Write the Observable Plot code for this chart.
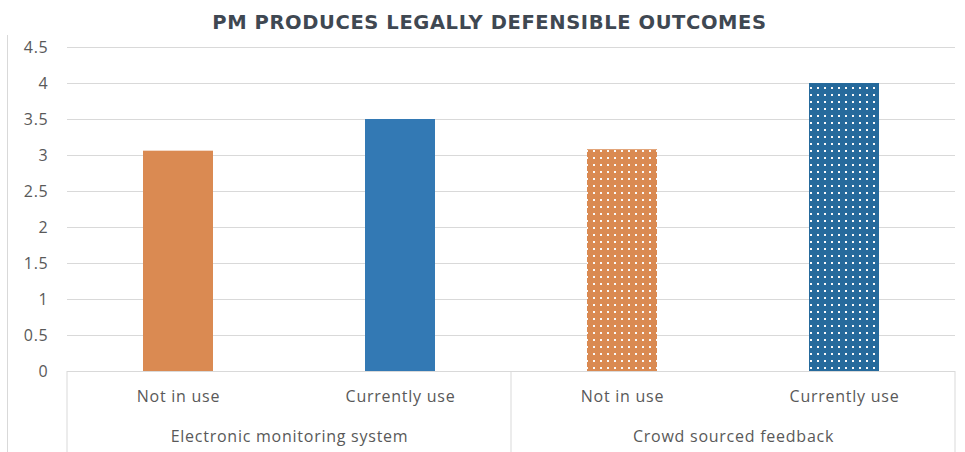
<!DOCTYPE html>
<html>
<head>
<meta charset="utf-8">
<script src="https://cdn.jsdelivr.net/npm/d3@7"></script>
<script src="https://cdn.jsdelivr.net/npm/@observablehq/plot@0.6"></script>
<style>
  html, body { margin: 0; padding: 0; background: #fff; }
  #wrap { position: relative; width: 965px; height: 452px; overflow: hidden; }
  #border { position: absolute; left: 7px; top: 35px; width: 1px; height: 417px; background: #d9d9d9; }
  #title { position: absolute; left: 0; top: 0; width: 965px; padding-left: 14px; box-sizing: border-box;
           text-align: center; font-family: "DejaVu Sans", sans-serif; font-weight: 700; font-size: 19.5px;
           letter-spacing: 0.6px; line-height: 45px; color: #3f4852; white-space: nowrap; }
  #chart { position: absolute; left: 0; top: 36px; }
</style>
</head>
<body>
<div id="wrap">
  <div id="border"></div>
  <div id="title">PM PRODUCES LEGALLY DEFENSIBLE OUTCOMES</div>
  <div id="chart"></div>
</div>
<script>
// Data
const groups = ["Electronic monitoring system", "Crowd sourced feedback"];
const statuses = ["Not in use", "Currently use"];
const barGroups = ["Electronic monitoring system", "Electronic monitoring system", "Crowd sourced feedback", "Crowd sourced feedback"];
const barStatuses = ["Not in use", "Currently use", "Not in use", "Currently use"];
const values = [3.06, 3.5, 3.08, 4.0];
const yTicks = [0, 0.5, 1, 1.5, 2, 2.5, 3, 3.5, 4, 4.5];

const data = values.map((v, i) => ({group: barGroups[i], status: barStatuses[i], value: v}));

const solidFill = {"Not in use": "#DA8A52", "Currently use": "#3379B4"};
const patternFill = {"Not in use": "url(#dotsOrange)", "Currently use": "url(#dotsBlue)"};
const fillOf = d => d.group === groups[0] ? solidFill[d.status] : patternFill[d.status];

const W = 965, H = 416;
const plot = Plot.plot({
  width: W,
  height: H,
  marginTop: 11,
  marginBottom: 81,
  marginLeft: 67,
  marginRight: 10,
  style: {fontFamily: "Open Sans, sans-serif", fontSize: "16px", letterSpacing: "0.75px", color: "#595959", background: "transparent"},
  fx: {domain: groups, padding: 0, label: null},
  x: {domain: statuses, paddingInner: 0.685, paddingOuter: 0.3425, label: null},
  y: {domain: [0, 4.5], label: null},
  color: {type: "identity"},
  marks: [
    Plot.gridY(yTicks, {stroke: "#d9d9d9", strokeOpacity: 1, strokeWidth: 1}),
    Plot.axisY(yTicks, {tickSize: 0, tickPadding: 19, label: null, tickFormat: d => String(d), fontSize: 16}),
    Plot.barY(data, {fx: "group", x: "status", y: "value", fill: fillOf}),
    Plot.ruleY([0], {stroke: "#d9d9d9", strokeWidth: 1}),
    Plot.axisX({tickSize: 0, tickPadding: 19, label: null, fontSize: 16}),
    Plot.axisFx({anchor: "bottom", tickSize: 0, tickPadding: 59, label: null, fontSize: 16})
  ]
});

document.getElementById("chart").appendChild(plot);

// Pattern definitions for the dotted bars
const svg = d3.select(plot);
const defs = svg.insert("defs", ":first-child");
function dotPattern(id, color) {
  const p = defs.append("pattern").attr("id", id)
    .attr("width", 7).attr("height", 7).attr("patternUnits", "userSpaceOnUse");
  p.append("rect").attr("width", 7).attr("height", 7).attr("fill", color);
  p.append("rect").attr("x", 2).attr("y", 2).attr("width", 2).attr("height", 2).attr("fill", "#fafafa");
}
dotPattern("dotsOrange", "#DA8A52");
dotPattern("dotsBlue", "#266A9C");

// Category-box separator lines below the axis, from the facet scale
const fx = plot.scale("fx");
const y = plot.scale("y");
const y0 = y.apply(0);
const edges = groups.map(g => fx.apply(g)).concat([fx.apply(groups[groups.length - 1]) + fx.bandwidth]);
svg.append("g").selectAll("line").data(edges).join("line")
  .attr("x1", d => d).attr("x2", d => d)
  .attr("y1", y0).attr("y2", H)
  .attr("stroke", "#d9d9d9").attr("stroke-width", 1);
</script>
</body>
</html>
